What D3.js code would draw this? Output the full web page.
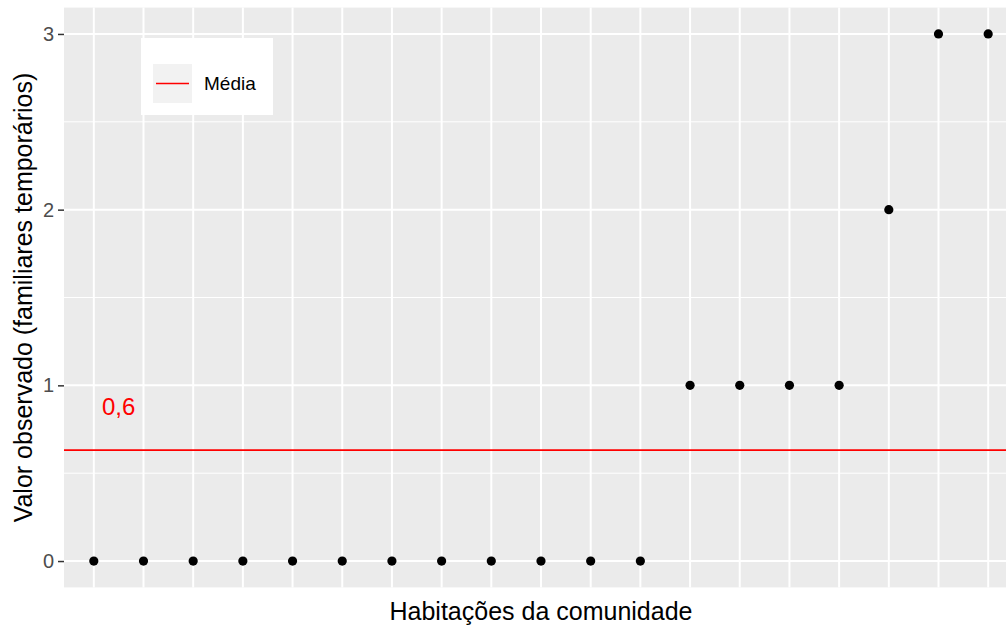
<!DOCTYPE html>
<html>
<head>
<meta charset="utf-8">
<script src="https://cdn.jsdelivr.net/npm/d3@7"></script>
<style>
  html, body { margin: 0; padding: 0; background: #fff; }
  svg { display: block; }
  text { font-family: "Liberation Sans", Arial, sans-serif; }
</style>
</head>
<body>
<div id="chart"></div>
<script>
// ---- data ----
const houses = ["H1","H2","H3","H4","H5","H6","H7","H8","H9","H10","H11","H12","H13","H14","H15","H16","H17","H18","H19"];
const observed = [0,0,0,0,0,0,0,0,0,0,0,0,1,1,1,1,2,3,3];
const yTicks = [0, 1, 2, 3];
const yMinorTicks = [0.5, 1.5, 2.5];
const meanLabel = "0,6";
const legendLabel = "Média";
const xTitle = "Habitações da comunidade";
const yTitle = "Valor observado (familiares temporários)";

// ---- layout ----
const W = 1006, H = 626;
const panel = { left: 64, right: 1018, top: 7.6, bottom: 587.4 };

const svg = d3.select("#chart").append("svg").attr("width", W).attr("height", H);
svg.append("rect").attr("width", W).attr("height", H).attr("fill", "#fff");

const x = d3.scalePoint().domain(houses).range([panel.left, panel.right]).padding(0.6);
const y = d3.scaleLinear().domain([-0.15, 3.15]).range([panel.bottom, panel.top]);

// panel background
svg.append("rect")
  .attr("x", panel.left).attr("y", panel.top)
  .attr("width", panel.right - panel.left).attr("height", panel.bottom - panel.top)
  .attr("fill", "#EBEBEB");

// minor y grid
svg.append("g").selectAll("line").data(yMinorTicks).join("line")
  .attr("x1", panel.left).attr("x2", panel.right)
  .attr("y1", d => y(d)).attr("y2", d => y(d))
  .attr("stroke", "#fff").attr("stroke-width", 1);

// major y grid
svg.append("g").selectAll("line").data(yTicks).join("line")
  .attr("x1", panel.left).attr("x2", panel.right)
  .attr("y1", d => y(d)).attr("y2", d => y(d))
  .attr("stroke", "#fff").attr("stroke-width", 2);

// major x grid
svg.append("g").selectAll("line").data(houses).join("line")
  .attr("x1", d => x(d)).attr("x2", d => x(d))
  .attr("y1", panel.top).attr("y2", panel.bottom)
  .attr("stroke", "#fff").attr("stroke-width", 2);

// y axis
const yAxis = d3.axisLeft(y).tickValues(yTicks).tickSize(6).tickPadding(4).tickFormat(d3.format("d"));
const gy = svg.append("g").attr("transform", `translate(${panel.left},0)`).call(yAxis);
gy.select(".domain").remove();
gy.selectAll(".tick line").attr("stroke", "#333333").attr("stroke-width", 1.5);
gy.selectAll(".tick text").attr("fill", "#4D4D4D").style("font-size", "20px")
  .style("font-family", "'Liberation Sans', Arial, sans-serif");

// mean line
const meanVal = d3.mean(observed);
svg.append("line")
  .attr("x1", panel.left).attr("x2", panel.right)
  .attr("y1", y(meanVal)).attr("y2", y(meanVal))
  .attr("stroke", "#FF0000").attr("stroke-width", 1.6);

// mean label
svg.append("text")
  .attr("x", (x(houses[0]) + x(houses[1])) / 2)
  .attr("y", y(meanVal + 0.25))
  .attr("dy", "0.35em")
  .attr("text-anchor", "middle")
  .attr("fill", "#FF0000")
  .style("font-size", "24px")
  .text(meanLabel);

// points
svg.append("g").selectAll("circle").data(houses).join("circle")
  .attr("cx", d => x(d))
  .attr("cy", (d, i) => y(observed[i]))
  .attr("r", 4.6)
  .attr("fill", "#000");

// axis titles
svg.append("text")
  .attr("x", 541).attr("y", 620)
  .attr("text-anchor", "middle").attr("fill", "#000")
  .style("font-size", "25px")
  .text(xTitle);

svg.append("text")
  .attr("transform", `translate(32,${(panel.top + panel.bottom) / 2}) rotate(-90)`)
  .attr("text-anchor", "middle").attr("fill", "#000")
  .style("font-size", "25px")
  .text(yTitle);

// legend
const lg = svg.append("g");
lg.append("rect").attr("x", 141).attr("y", 38).attr("width", 132).attr("height", 77).attr("fill", "#fff");
lg.append("rect").attr("x", 153).attr("y", 64).attr("width", 39).attr("height", 39).attr("fill", "#F2F2F2");
lg.append("line").attr("x1", 156).attr("x2", 189).attr("y1", 83.5).attr("y2", 83.5)
  .attr("stroke", "#FF0000").attr("stroke-width", 1.6);
lg.append("text").attr("x", 204).attr("y", 83.5).attr("dy", "0.35em")
  .attr("fill", "#000").style("font-size", "19px").text(legendLabel);
</script>
</body>
</html>
